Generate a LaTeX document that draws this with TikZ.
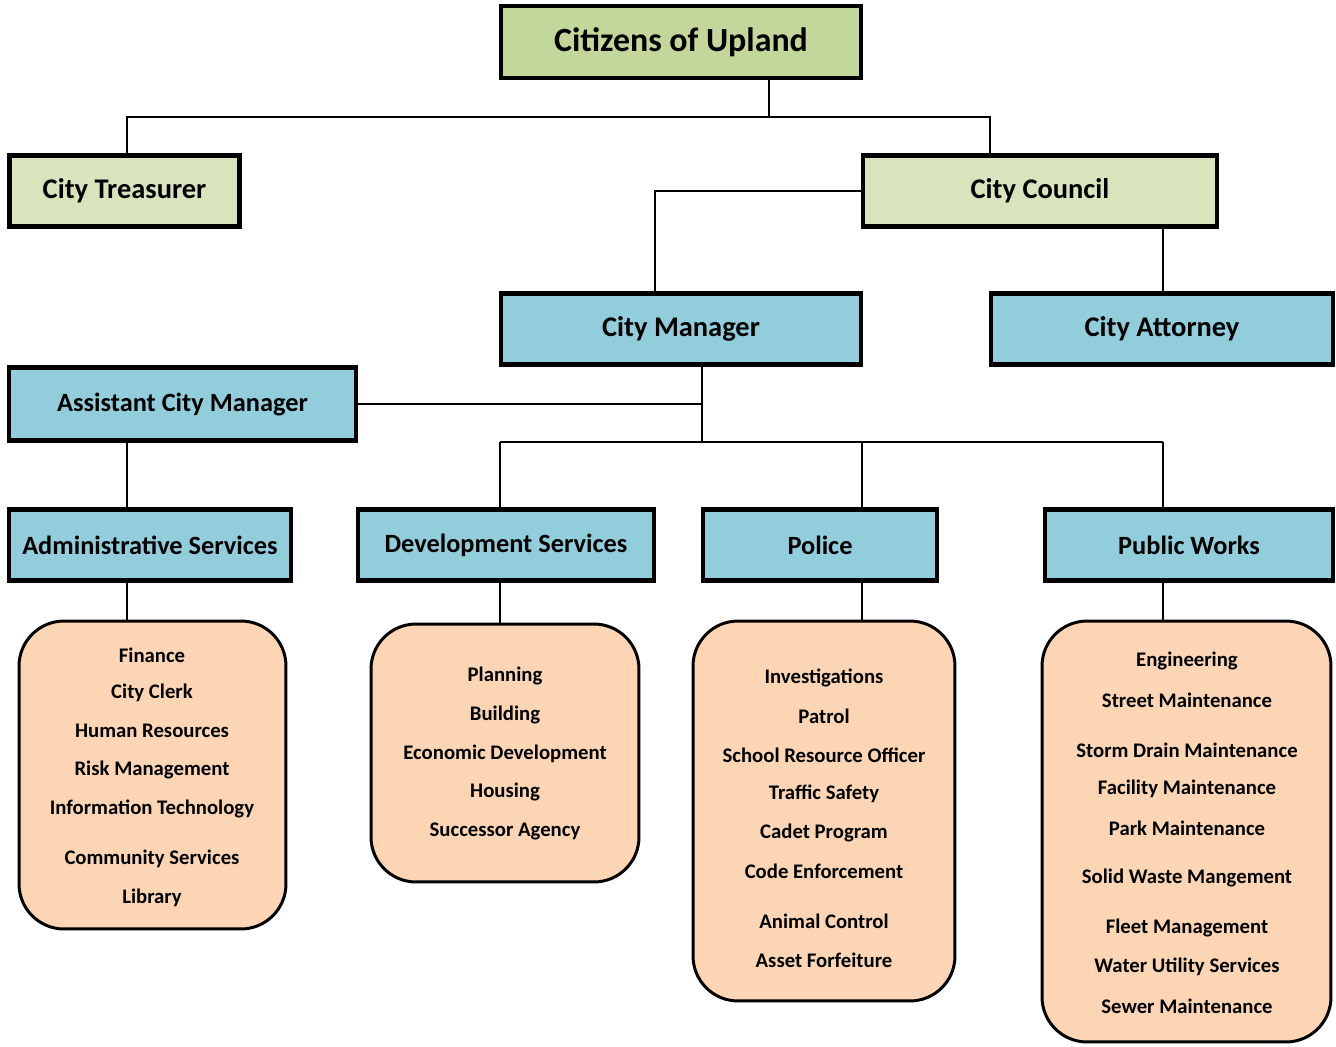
\documentclass[tikz,border=0pt]{standalone}
\usepackage{fontspec}
\setmainfont{Carlito}
\usepackage{tikz}
\definecolor{colTop}{RGB}{196,215,155}
\definecolor{colGreen}{RGB}{216,228,188}
\definecolor{colBlue}{RGB}{146,205,220}
\definecolor{colPeach}{RGB}{252,213,180}
\tikzstyle{box}=[draw=black, line width=2.6pt, inner sep=0pt, font=\bfseries\fontsize{15}{18}\selectfont]
\tikzstyle{upper}=[font=\bfseries\fontsize{16.2}{19}\selectfont]
\tikzstyle{topbox}=[box, fill=colTop, font=\bfseries\fontsize{19.3}{22}\selectfont]
\tikzstyle{gbox}=[box, fill=colGreen, upper]
\tikzstyle{bbox}=[box, fill=colBlue]
\tikzstyle{list}=[draw=black, line width=1.7pt, fill=colPeach, rounded corners=0.9cm, inner sep=0pt]
\tikzstyle{item}=[inner sep=0pt, font=\bfseries\fontsize{11.8}{14}\selectfont]
\tikzstyle{link}=[line width=1.2pt, black]

\begin{document}
\begin{tikzpicture}[x=0.02cm, y=-0.02cm]
			\useasboundingbox (0,0) rectangle (1336,1046);
			% boxes
			\node[topbox, minimum width=7.2cm, minimum height=1.44cm] (citizens) at (681,42) {Citizens of Upland};
			\node[gbox, minimum width=4.6cm, minimum height=1.42cm] (treasurer) at (124.5,191) {City Treasurer};
			\node[gbox, minimum width=7.08cm, minimum height=1.42cm] (council) at (1040,191) {City Council};
			\node[bbox, upper, minimum width=7.2cm, minimum height=1.42cm] (manager) at (681,329) {City Manager};
			\node[bbox, upper, minimum width=6.84cm, minimum height=1.42cm] (attorney) at (1162,329) {City Attorney};
			\node[bbox, minimum width=6.94cm, minimum height=1.46cm] (assistant) at (182.5,404) {Assistant City Manager};
			\node[bbox, minimum width=5.64cm, minimum height=1.42cm] (admin) at (150,545) {Administrative Services};
			\node[bbox, minimum width=5.92cm, minimum height=1.42cm] (dev) at (506,545) {Development Services};
			\node[bbox, minimum width=4.68cm, minimum height=1.42cm] (police) at (820,545) {Police};
			\node[bbox, minimum width=5.76cm, minimum height=1.42cm] (works) at (1189,545) {Public Works};
			% lists
			\node[list, minimum width=5.34cm, minimum height=6.16cm] (adminlist) at (152.5,775) {};
			\node[list, minimum width=5.36cm, minimum height=5.16cm] (devlist) at (505,753) {};
			\node[list, minimum width=5.24cm, minimum height=7.6cm] (policelist) at (824,811) {};
			\node[list, minimum width=5.78cm, minimum height=8.42cm] (workslist) at (1186.5,831.5) {};
			\foreach \t/\y [count=\i] in {Finance/655, City Clerk/693, Human Resources/731, Risk Management/770, Information Technology/809, Community Services/859, Library/898}
				\node[item] (adm\i) at (152,\y) {\t};
			\foreach \t/\y [count=\i] in {Planning/676, Building/715, Economic Development/754, Housing/792, Successor Agency/831}
				\node[item] (dev\i) at (505,\y) {\t};
			\foreach \t/\y [count=\i] in {Investigations/678, Patrol/716, School Resource Officer/755, Traffic Safety/794, Cadet Program/833, Code Enforcement/871, Animal Control/921, Asset Forfeiture/960}
				\node[item] (pol\i) at (824,\y) {\t};
			\foreach \t/\y [count=\i] in {Engineering/661, Street Maintenance/700, Storm Drain Maintenance/750, Facility Maintenance/789, Park Maintenance/828, Solid Waste Mangement/878, Fleet Management/928, Water Utility Services/967, Sewer Maintenance/1006}
				\node[item] (pw\i) at (1187,\y) {\t};
			% junctions
			\coordinate (top) at (769,117);
			\coordinate (topr) at (990,117);
			\coordinate (mgr) at (655,191);
			\coordinate (hub) at (702,442);
			\coordinate (busl) at (500,442);
			\coordinate (busp) at (862,442);
			\coordinate (busr) at (1163,442);
			\coordinate (adx) at (127,0);
			% connectors
			\draw[link] (citizens.south -| top) -- (top) -- (top -| adx) -- (adx |- treasurer.north);
			\draw[link] (top) -- (topr) -- (topr |- council.north);
			\draw[link] (council.west) -- (mgr) -- (mgr |- manager.north);
			\draw[link] (council.south -| busr) -- (busr |- attorney.north);
			\draw[link] (manager.south -| hub) -- (hub);
			\draw[link] (assistant.east) -- (assistant.east -| hub);
			\draw[link] (busl) -- (busr);
			\draw[link] (busl) -- (busl |- dev.north) (busp) -- (busp |- police.north) (busr) -- (busr |- works.north);
			\draw[link] (adx |- assistant.south) -- (adx |- admin.north);
			\draw[link] (adx |- admin.south) -- (adx |- adminlist.north);
			\draw[link] (busl |- dev.south) -- (busl |- devlist.north);
			\draw[link] (busp |- police.south) -- (busp |- policelist.north);
			\draw[link] (busr |- works.south) -- (busr |- workslist.north);
		\end{tikzpicture}
\end{document}
